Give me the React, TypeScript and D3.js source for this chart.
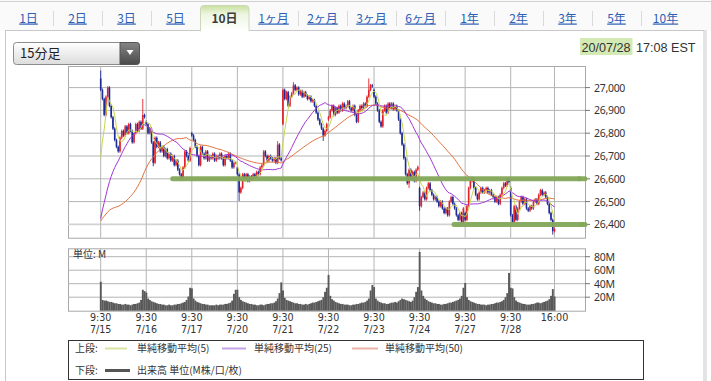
import React from 'react';
import * as d3 from 'd3';

// ---------- DATA ----------
const tabs = ['1日', '2日', '3日', '5日', '10日', '1ヶ月', '2ヶ月', '3ヶ月', '6ヶ月', '1年', '2年', '3年', '5年', '10年'];
const selectedTab = 4;
const days = ['7/15', '7/16', '7/17', '7/20', '7/21', '7/22', '7/23', '7/24', '7/27', '7/28'];
const priceTicks = [26400, 26500, 26600, 26700, 26800, 26900, 27000];
const volTicks = [20, 40, 60, 80];

// 15-minute closes before 7/15 (used only for moving averages)
const priorCloses = [
  26350, 26420, 26480, 26530, 26570, 26600, 26620, 26630, 26610, 26600, 26580, 26560, 26540, 26500, 26470, 26430, 26400, 26350, 26300, 26250, 26200, 26150, 26085,
  25950, 25920, 26000, 26080, 26150, 26200, 26250, 26280, 26300, 26330, 26350, 26370, 26380, 26400, 26420, 26450, 26480, 26500, 26520, 26550, 26570, 26590, 26600, 26610, 26630, 26642,
];

const dayOpens = [27040, 26850, 26800, 26650, 26840, 26860, 26990, 26560, 26450, 26560];

const close0715 = [26990, 26950, 26880, 26960, 27000, 26920, 26870, 26820, 26770, 26740, 26720, 26780, 26810, 26790, 26830, 26800, 26840, 26810, 26760, 26800, 26840, 26810, 26850, 26820, 26880, 26870];
const close0716 = [26840, 26800, 26820, 26760, 26670, 26780, 26740, 26760, 26720, 26740, 26700, 26730, 26690, 26710, 26680, 26700, 26660, 26680, 26640, 26620, 26600, 26650, 26720, 26700, 26680, 26735];
const close0717 = [26790, 26770, 26740, 26700, 26660, 26740, 26710, 26690, 26720, 26680, 26700, 26690, 26710, 26680, 26700, 26690, 26710, 26690, 26660, 26700, 26690, 26710, 26680, 26650, 26670, 26672];
const close0720 = [26620, 26540, 26560, 26620, 26600, 26620, 26590, 26610, 26600, 26620, 26610, 26630, 26620, 26650, 26660, 26720, 26700, 26680, 26700, 26690, 26680, 26690, 26670, 26750, 26690, 26681];
const close0721 = [26990, 26950, 26980, 26920, 26960, 26975, 27010, 26990, 27000, 26970, 26985, 26960, 26980, 26965, 26950, 26960, 26940, 26945, 26920, 26890, 26860, 26840, 26820, 26790, 26810, 26840];
const close0722 = [26870, 26900, 26920, 26880, 26910, 26890, 26920, 26900, 26930, 26910, 26920, 26940, 26910, 26900, 26920, 26880, 26850, 26900, 26920, 26910, 26930, 26920, 26960, 26990, 27010, 27005];
const close0723 = [26960, 26930, 26900, 26850, 26830, 26900, 26920, 26890, 26930, 26910, 26930, 26905, 26920, 26900, 26860, 26800, 26750, 26690, 26620, 26580, 26640, 26600, 26630, 26590, 26640, 26652];
const close0724 = [26480, 26520, 26540, 26510, 26560, 26580, 26550, 26530, 26510, 26520, 26500, 26480, 26500, 26470, 26450, 26470, 26440, 26500, 26520, 26490, 26470, 26440, 26420, 26450, 26410, 26470];
const close0727 = [26420, 26480, 26560, 26590, 26600, 26560, 26530, 26510, 26540, 26560, 26540, 26550, 26560, 26540, 26550, 26530, 26520, 26500, 26520, 26490, 26530, 26560, 26580, 26570, 26600, 26585];
const close0728 = [26440, 26410, 26480, 26420, 26470, 26500, 26520, 26490, 26510, 26470, 26460, 26480, 26470, 26500, 26510, 26490, 26530, 26550, 26530, 26540, 26520, 26490, 26450, 26420, 26370, 26380];

// notable wick extremes: [bar index, high, low]
const wickExtremes: [number, number | null, number | null][] = [
  [0, 27075, null], [24, 26950, null], [30, null, 26655], [47, null, 26590],
  [79, null, 26503], [101, 26765, null], [110, 27024, null], [127, null, 26766],
  [153, 27040, null], [176, null, 26560], [182, null, 26460], [206, null, 26395],
  [212, 26610, null], [258, null, 26355],
];

// volume (M)
const vol0715 = [43, 16, 15, 15, 14, 13, 13, 12, 11, 11, 10, 10, 9, 9, 10, 9, 9, 8, 9, 10, 10, 11, 12, 16, 31, 29];
const vol0716 = [27, 18, 16, 14, 13, 12, 11, 10, 10, 9, 9, 8, 8, 9, 8, 8, 9, 9, 10, 10, 11, 12, 13, 16, 21, 34];
const vol0717 = [33, 18, 15, 13, 12, 11, 10, 10, 9, 9, 8, 8, 8, 8, 9, 8, 9, 9, 9, 10, 10, 11, 12, 15, 25, 31];
const vol0720 = [31, 20, 16, 14, 13, 12, 11, 10, 10, 9, 9, 8, 8, 9, 9, 8, 9, 10, 10, 11, 11, 12, 14, 18, 26, 42];
const vol0721 = [30, 19, 16, 15, 14, 13, 12, 11, 11, 10, 10, 9, 9, 10, 9, 10, 11, 12, 12, 13, 14, 15, 16, 20, 28, 34];
const vol0722 = [53, 22, 17, 15, 13, 12, 11, 10, 10, 9, 9, 9, 8, 8, 9, 9, 10, 10, 11, 12, 12, 13, 15, 18, 30, 38];
const vol0723 = [35, 18, 15, 13, 12, 11, 11, 10, 10, 11, 12, 12, 13, 12, 14, 16, 18, 17, 16, 15, 14, 13, 15, 20, 28, 35];
const vol0724 = [87, 30, 22, 18, 16, 14, 13, 12, 11, 11, 10, 10, 9, 9, 10, 10, 11, 12, 12, 13, 14, 15, 16, 18, 22, 34];
const vol0727 = [41, 20, 16, 14, 13, 12, 11, 10, 10, 9, 9, 9, 8, 9, 9, 10, 10, 11, 12, 12, 13, 14, 16, 20, 26, 56];
const vol0728 = [34, 33, 20, 15, 13, 12, 11, 10, 10, 9, 9, 9, 10, 10, 11, 12, 12, 11, 12, 13, 14, 15, 17, 22, 32, 21];

const supportLines = [
  { price: 26600, from: 172.7, to: 579.3 },
  { price: 26400, from: 454, to: 581.5 },
];

// ---------- DERIVED ----------
const closeDays = [close0715, close0716, close0717, close0720, close0721, close0722, close0723, close0724, close0727, close0728];
const volDays = [vol0715, vol0716, vol0717, vol0720, vol0721, vol0722, vol0723, vol0724, vol0727, vol0728];
const BARS = 26;
const closes = closeDays.flat();
const volumes = volDays.flat();
const wickPad = 6;

type Bar = { o: number; h: number; l: number; c: number };
const bars: Bar[] = closes.map((c, j) => {
  const o = j % BARS === 0 ? dayOpens[j / BARS] : closes[j - 1];
  let h = Math.max(o, c) + wickPad;
  let l = Math.min(o, c) - wickPad;
  const ex = wickExtremes.find((e) => e[0] === j);
  if (ex) {
    if (ex[1] != null) h = ex[1];
    if (ex[2] != null) l = ex[2];
  }
  return { o, h, l, c };
});

const allCloses = priorCloses.concat(closes);
function sma(n: number): number[] {
  return closes.map((_, j) => {
    const end = priorCloses.length + j;
    return d3.mean(allCloses.slice(end - n + 1, end + 1)) as number;
  });
}
const ma5 = sma(5);
const ma25 = sma(25);
const ma50 = sma(50);

// ---------- LAYOUT ----------
const W = 711, H = 381;
const plotL = 68, plotR = 585;
const mainT = 66, mainB = 237.7;
const volT = 248.3, volB = 310.7;

const x = d3.scaleLinear().domain([0, closes.length - 1]).range([100.7, 554.5]);
const y = d3.scaleLinear().domain([26400, 27000]).range([224.4, 87.6]);
const yv = d3.scaleLinear().domain([0, 80]).range([volB, 256.7]);

const UP = '#e3222c';
const DOWN = '#1c2b96';
const GRID = '#b4b4b4';
const JP = '"Noto Sans CJK JP", "Noto Sans", sans-serif';
const NUM = '"Noto Sans", "DejaVu Sans", sans-serif';
const AX = '"DejaVu Sans", "Noto Sans", sans-serif';

const dayStarts = days.map((_, i) => x(i * BARS));
const endX = x(closes.length - 1);

export default function App() {
  const line = d3.line<number>().x((_, j) => x(j)).y((v) => y(v));
  const step = x(1) - x(0);

  return (
    <svg width={W} height={H} style={{ position: 'absolute', left: 0, top: 0, background: '#fff' }}>
      <defs>
        <linearGradient id="tabSel" x1="0" y1="0" x2="0" y2="1">
          <stop offset="0" stopColor="#c9e09e" />
          <stop offset="0.35" stopColor="#eef6e2" />
          <stop offset="1" stopColor="#ffffff" />
        </linearGradient>
        <linearGradient id="dd" x1="0" y1="0" x2="0" y2="1">
          <stop offset="0" stopColor="#ffffff" />
          <stop offset="1" stopColor="#dcdcdc" />
        </linearGradient>
        <linearGradient id="btn" x1="0" y1="0" x2="0" y2="1">
          <stop offset="0" stopColor="#858585" />
          <stop offset="1" stopColor="#4a4a4a" />
        </linearGradient>
        <clipPath id="mainClip">
          <rect x={plotL} y={mainT} width={plotR - plotL} height={mainB - mainT} />
        </clipPath>
      </defs>

      {/* tab bar */}
      <rect x={0} y={0} width={W} height={30.5} fill="#fafafa" />
      <line x1={0} x2={W} y1={1.5} y2={1.5} stroke="#d0d0d0" />
      {/* content panel */}
      <rect x={5.5} y={30.5} width={698.5} height={360} fill="#fff" stroke="#c8c8c8" />
      <line x1={706} x2={706} y1={30} y2={H} stroke="#e4e4e4" strokeWidth={2} />
      {/* selected tab */}
      <path d="M200.5,31 L200.5,9 Q200.5,5.5 204,5.5 L245.5,5.5 Q249,5.5 249,9 L249,31 Z" fill="url(#tabSel)" stroke="#cbd7bb" />
      <rect x={201} y={29} width={47.5} height={3} fill="#fff" />
      {tabs.map((t, i) => {
        const cx = 28.5 + 49 * i;
        const sel = i === selectedTab;
        return (
          <g key={t}>
            {i > 0 && i !== selectedTab && i !== selectedTab + 1 && (
              <line x1={4.5 + 49 * i} x2={4.5 + 49 * i} y1={11} y2={26} stroke="#dadada" />
            )}
            <text x={cx} y={22.5} textAnchor="middle" fontFamily={JP} fontSize={12}
              fill={sel ? '#3d3d3d' : '#2d5fb5'} fontWeight={sel ? 700 : 400}
              textDecoration={sel ? 'none' : 'underline'}>{t}</text>
          </g>
        );
      })}

      {/* dropdown */}
      <rect x={13.5} y={42.5} width={126} height={22} rx={3} fill="url(#dd)" stroke="#8c8c8c" />
      <path d="M120,42.5 L136.5,42.5 Q139.5,42.5 139.5,45.5 L139.5,61.5 Q139.5,64.5 136.5,64.5 L120,64.5 Z" fill="url(#btn)" stroke="#555" />
      <polygon points="126.5,50 133.5,50 130,55" fill="#fff" />
      <text x={20} y={58} fontFamily={JP} fontSize={13} fill="#222">15分足</text>

      {/* date */}
      <rect x={580} y={38} width={52.5} height={17} fill="#d3eab4" />
      <text x={581.5} y={52} fontFamily='"Liberation Sans", Arial, sans-serif' fontSize={12.6} fill="#333">20/07/28</text>
      <text x={636} y={52} fontFamily='"Liberation Sans", Arial, sans-serif' fontSize={12.6} fill="#333">17:08 EST</text>

      {/* main chart frame & grid */}
      <rect x={plotL + 0.5} y={mainT + 0.5} width={plotR - plotL} height={mainB - mainT} fill="#fff" stroke="#a8a8a8" />
      {priceTicks.map((p) => (
        <g key={p}>
          <line x1={plotL} x2={plotR} y1={y(p)} y2={y(p)} stroke={p === 26400 ? '#d2d2d2' : GRID} strokeWidth={p === 26400 ? 1.6 : 1} />
          <line x1={plotR} x2={plotR + 5} y1={y(p)} y2={y(p)} stroke="#777" />
          <text x={594} y={y(p) + 4} fontFamily={NUM} fontSize={10.5} fill="#333" letterSpacing={-0.3}>{d3.format(',')(p)}</text>
        </g>
      ))}
      {dayStarts.concat([endX]).map((gx, i) => (
        <line key={'vg' + i} x1={gx} x2={gx} y1={mainT} y2={mainB} stroke={GRID} />
      ))}

      <g clipPath="url(#mainClip)">
        {/* candles */}
        {bars.map((b, j) => {
          const cx = x(j);
          const col = b.c >= b.o ? UP : DOWN;
          const top = y(Math.max(b.o, b.c));
          const bot = y(Math.min(b.o, b.c));
          return (
            <g key={j}>
              <line x1={cx} x2={cx} y1={y(b.h)} y2={y(b.l)} stroke={col} strokeWidth={0.9} />
              <rect x={cx - 0.8} y={top} width={1.6} height={Math.max(0.8, bot - top)} fill={col} />
            </g>
          );
        })}
        {/* moving averages */}
        <path d={line(ma50) || ''} fill="none" stroke="#e2703c" strokeWidth={1} />
        <path d={line(ma25) || ''} fill="none" stroke="#a235d6" strokeWidth={1} />
        <path d={line(ma5) || ''} fill="none" stroke="#c5d64c" strokeWidth={1} />
        {/* support / resistance */}
        {supportLines.map((s, i) => (
          <line key={i} x1={s.from} x2={s.to} y1={y(s.price)} y2={y(s.price)} stroke="#84a85a" strokeWidth={5} strokeLinecap="round" opacity={0.95} />
        ))}
      </g>
      {supportLines.map((s, i) => (
        <line key={'o' + i} x1={Math.max(s.from, plotR)} x2={s.to} y1={y(s.price)} y2={y(s.price)} stroke="#84a85a" strokeWidth={5} strokeLinecap="round" opacity={0.95} />
      ))}

      {/* volume panel */}
      <rect x={plotL + 0.5} y={volT + 0.5} width={plotR - plotL} height={volB - volT} fill="#fff" stroke="#a8a8a8" />
      {volTicks.map((v) => (
        <g key={v}>
          <line x1={plotL} x2={plotR} y1={yv(v)} y2={yv(v)} stroke={GRID} />
          <line x1={plotR} x2={plotR + 5} y1={yv(v)} y2={yv(v)} stroke="#777" />
          <text x={594} y={yv(v) + 4} fontFamily={NUM} fontSize={10.5} fill="#333" letterSpacing={-0.3}>{v}M</text>
        </g>
      ))}
      {dayStarts.concat([endX]).map((gx, i) => (
        <line key={'vv' + i} x1={gx} x2={gx} y1={volT} y2={volB} stroke={GRID} />
      ))}
      {volumes.map((v, j) => (
        <rect key={j} x={x(j) - step / 2} y={yv(v)} width={step + 0.15} height={volB - yv(v)} fill="#595959" />
      ))}
      <text x={73} y={258} fontFamily={JP} fontSize={10} fill="#333">単位: M</text>

      {/* x labels */}
      {dayStarts.map((gx, i) => (
        <g key={'xl' + i}>
          <text x={gx} y={321} textAnchor="middle" fontFamily={AX} fontSize={9.6} fill="#333">9:30</text>
          <text x={gx} y={333} textAnchor="middle" fontFamily={AX} fontSize={9.6} fill="#333">{days[i]}</text>
        </g>
      ))}
      <text x={endX} y={321} textAnchor="middle" fontFamily={AX} fontSize={9.6} fill="#333">16:00</text>

      {/* legend */}
      <rect x={68.5} y={340.5} width={575} height={39} fill="#fff" stroke="#333" />
      <text x={75} y={352} fontFamily={JP} fontSize={10} fill="#333">上段:</text>
      <line x1={105} x2={127} y1={348.5} y2={348.5} stroke="#d9e2a4" strokeWidth={2} />
      <text x={137} y={352} fontFamily={JP} fontSize={10} fill="#333">単純移動平均(5)</text>
      <line x1={222} x2={246} y1={348.5} y2={348.5} stroke="#c3a2e6" strokeWidth={2} />
      <text x={254} y={352} fontFamily={JP} fontSize={10} fill="#333">単純移動平均(25)</text>
      <line x1={352} x2={378} y1={348.5} y2={348.5} stroke="#ebb3a6" strokeWidth={2} />
      <text x={385} y={352} fontFamily={JP} fontSize={10} fill="#333">単純移動平均(50)</text>
      <text x={75} y={374} fontFamily={JP} fontSize={10} fill="#333">下段:</text>
      <line x1={105} x2={130} y1={370.5} y2={370.5} stroke="#555" strokeWidth={3} />
      <text x={137} y={374} fontFamily={JP} fontSize={10} fill="#333">出来高 単位(M株/口/枚)</text>
    </svg>
  );
}
